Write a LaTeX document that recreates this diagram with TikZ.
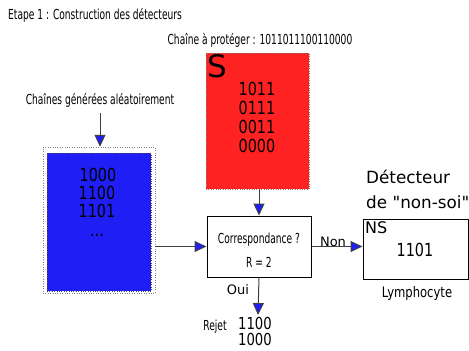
\documentclass[tikz,border=0pt]{standalone}
\usepackage{fontspec}
\setmainfont{DejaVu Sans}[Ligatures=TeXOff]
\newfontfamily\condfont[FakeStretch=0.66]{DejaVu Sans}
\newfontfamily\numfont[FakeStretch=0.8]{DejaVu Sans}
\usetikzlibrary{arrows.meta}
\definecolor{boxred}{RGB}{255,34,34}
\definecolor{boxblue}{RGB}{30,30,245}
\definecolor{linegray}{RGB}{64,64,64}
\begin{document}
\begin{tikzpicture}[x=1pt,y=-1pt,
  conn/.style={draw=linegray, line width=1pt, -{Triangle[length=12pt,width=11pt,fill=boxblue]}},
  lbl/.style={font=\condfont\fontsize{13.8}{16}\selectfont, inner sep=0pt},
  num/.style={font=\numfont\fontsize{18}{19}\selectfont, inner sep=0pt, align=center},
  plain/.style={font=\fontsize{13}{15}\selectfont, inner sep=0pt},
  box/.style={draw=black, line width=1pt, inner sep=0pt}]
\useasboundingbox (0,0) rectangle (469,351);

\node[lbl, anchor=west] (title) at (8,15) {Etape 1 : Construction des détecteurs};
\node[lbl] (prot) at (260,40) {Chaîne à protéger : 1011011100110000};
\node[lbl] (gen) at (100,100) {Chaînes générées aléatoirement};

% red box S
\node[draw=gray, dotted, fill=boxred, minimum width=103pt, minimum height=136pt, inner sep=0pt] (S) at (257.5,121) {};
\node[font=\fontsize{31}{31}\selectfont, inner sep=0pt, anchor=north west] (Slbl) at (207,54) {S};
\node[num] (Snums) at (257,117) {1011\\0111\\0011\\0000};

% blue box
\node[draw=gray, dotted, minimum width=112pt, minimum height=146pt, inner sep=0pt] (blueout) at (99,220) {};
\node[draw=black!70, dotted, fill=boxblue, minimum width=104pt, minimum height=138pt, inner sep=0pt] (bluein) at (99,222) {};
\node[num] (bnum1) at (98,175) {1000};
\node[num] (bnum2) at (97,193) {1100};
\node[num] (bnum3) at (97,211) {1101};
\node[num, anchor=base] (bdots) at (97,236) {...};

% correspondence box
\node[box, minimum width=104pt, minimum height=61pt] (corr) at (259,246.5) {};
\node[lbl] (corrt) at (259,240) {Correspondance ?};
\node[lbl] (corrr) at (259,262) {R = 2};

% NS box
\node[box, minimum width=105pt, minimum height=60pt] (ns) at (415.5,249) {};
\node[font=\fontsize{16}{16}\selectfont, inner sep=0pt, anchor=north west] (nslbl) at (365,221) {NS};
\node[num] (nsnum) at (415,250) {1101};
\node[lbl] (lymph) at (417,293) {\numfont\fontsize{14.5}{16}\selectfont Lymphocyte};
\node[font=\fontsize{16.8}{25}\selectfont, inner sep=0pt, anchor=north west, align=left] (det) at (366,170) {Détecteur\\de "non-soi"};

% reject
\coordinate (rej) at (258,315);
\node[lbl] (rejet) at (215,327) {Rejet};
\node[num, font=\numfont\fontsize{16.5}{18}\selectfont] (rejn1) at (255,323) {1100};
\node[num, font=\numfont\fontsize{16.5}{18}\selectfont] (rejn2) at (255,339) {1000};

% connectors
\draw[conn] (gen.south) ++(0,6) -- (gen.south |- blueout.north);
\draw[conn] (corr.north |- S.south) -- (corr.north);
\draw[conn] (blueout.east |- corr.west) -- (corr.west);
\draw[conn] (corr.east) -- (ns.west |- corr.east);
\draw[conn] (corr.south) -- (rej);

\node[plain] (non) at (333,242) {Non};
\node[plain] (oui) at (238,290) {Oui};
\end{tikzpicture}
\end{document}
